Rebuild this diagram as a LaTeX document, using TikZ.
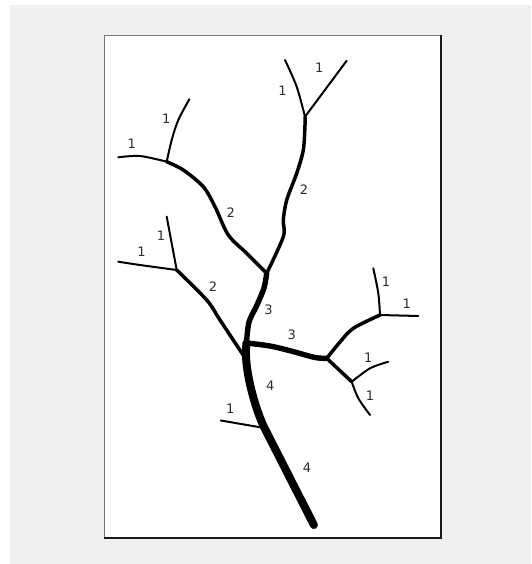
\documentclass[tikz,border=0pt]{standalone}
\usepackage{fontspec}
\setmainfont{DejaVu Sans}
\definecolor{pageGray}{RGB}{240, 240, 240}
\definecolor{frameGray}{RGB}{120, 120, 120}
\definecolor{labelGray}{RGB}{45, 45, 45}
\usetikzlibrary{positioning, calc}

\begin{document}
\begin{tikzpicture}[
    x=1pt, y=-1pt,
    stream1/.style={draw=black, line width=2pt, line cap=round, line join=round},
    stream2/.style={draw=black, line width=3.5pt, line cap=round, line join=round},
    stream3/.style={draw=black, line width=5.4pt, line cap=round, line join=round},
    stream4/.style={draw=black, line width=8pt, line cap=round, line join=round},
    order/.style={text=labelGray, inner sep=0pt, font=\fontsize{13}{15}\selectfont},
  ]
    % page and frame
    \useasboundingbox (0,0) rectangle (531,564);
    \fill[pageGray] (10,5) rectangle (531,564);
    \fill[white] (104,36) rectangle (441,537);
    \draw[frameGray, line width=1pt] (104,537) -- (104,36) -- (441,36);
    \draw[black!90, line width=2.7pt] (441,35) -- (441,538) -- (103.5,538);

    % junctions and tips
    \coordinate (outlet) at (313.9,525);
    \coordinate (jSide) at (264.5,428);
    \coordinate (tSide) at (220.8,420.5);
    \coordinate (jLow) at (243.8,356);
    \coordinate (jSplit) at (246.5,343);
    \coordinate (jUp) at (266.7,273.3);
    \coordinate (jNW) at (166.7,161.7);
    \coordinate (tNWa) at (118.3,157.3);
    \coordinate (tNWb) at (189.3,99.3);
    \coordinate (jN) at (305,116.7);
    \coordinate (tNa) at (285,60);
    \coordinate (tNb) at (346.7,60.7);
    \coordinate (jW) at (176.7,270);
    \coordinate (tWa) at (118.3,261.7);
    \coordinate (tWb) at (166.7,216.7);
    \coordinate (jE) at (326.7,358.3);
    \coordinate (jNE) at (380,315);
    \coordinate (tNEa) at (373.3,268.3);
    \coordinate (tNEb) at (418.3,316);
    \coordinate (jSE) at (351.7,381.7);
    \coordinate (tSEa) at (388.3,361.7);
    \coordinate (tSEb) at (370,415);

    % order 1 streams
    \draw[stream1] (jSide) -- (tSide);
    \draw[stream1] plot[smooth] coordinates {(jNW) (140,156) (tNWa)};
    \draw[stream1] plot[smooth] coordinates {(jNW) (171.7,140) (178.3,120) (tNWb)};
    \draw[stream1] plot[smooth] coordinates {(jN) (296.7,86.7) (tNa)};
    \draw[stream1] (jN) -- (tNb);
    \draw[stream1] plot[smooth] coordinates {(jW) (140,265) (tWa)};
    \draw[stream1] (jW) -- (tWb);
    \draw[stream1] plot[smooth] coordinates {(jNE) (378.3,293.3) (tNEa)};
    \draw[stream1] (jNE) -- (tNEb);
    \draw[stream1] plot[smooth] coordinates {(jSE) (370,368.3) (tSEa)};
    \draw[stream1] plot[smooth] coordinates {(jSE) (358.3,398.3) (tSEb)};

    % order 2 streams
    \draw[stream2] plot[smooth, tension=0.5] coordinates {(jNW) (183.3,170) (203.3,186.7)
        (215,206.7) (228.3,235) (246.7,253.3) (jUp)};
    \draw[stream2] plot[smooth, tension=0.5] coordinates {(jUp) (283.3,236.7) (283.3,220)
        (286.7,200) (296.7,173.3) (303.3,150) (305,125) (jN)};
    \draw[stream2] plot[smooth, tension=0.5] coordinates {(jLow) (220,320) (206.7,300) (jW)};
    \draw[stream2] plot[smooth, tension=0.5] coordinates {(jE) (340,342) (353.3,328.3) (jNE)};
    \draw[stream2] (jE) -- (jSE);

    % order 3 streams
    \draw[stream3] plot[smooth, tension=0.5] coordinates {(jSplit) (249,322) (257,305)
        (264,288) (jUp)};
    \draw[stream3] plot[smooth, tension=0.5] coordinates {(jSplit) (270,346) (291,351)
        (315,357.5) (jE)};

    % order 4 stream
    \draw[stream4] (outlet) -- (jSide) .. controls (256,411) and (243,368) .. (jSplit);

    % stream orders
    \node[order] (nNWa) at (131.7,143.3) {1};
    \node[order] (nNWb) at (166.3,118.5) {1};
    \node[order] (nNW) at (230.7,212.8) {2};
    \node[order] (nNa) at (282.5,90.7) {1};
    \node[order] (nNb) at (319.2,67.8) {1};
    \node[order] (nN) at (304,189.8) {2};
    \node[order] (nWa) at (141.6,251.8) {1};
    \node[order] (nWb) at (161,235.3) {1};
    \node[order] (nW) at (213,287) {2};
    \node[order] (nUp) at (268.4,309.4) {3};
    \node[order] (nE) at (291.7,335.2) {3};
    \node[order] (nNEa) at (386,281.5) {1};
    \node[order] (nNEb) at (406.7,304) {1};
    \node[order] (nSEa) at (368.2,357.5) {1};
    \node[order] (nSEb) at (370,395.3) {1};
    \node[order] (nTrunkA) at (270.2,385.6) {4};
    \node[order] (nTrunkB) at (307.1,467.6) {4};
    \node[order] (nSide) at (230.3,408.3) {1};
\end{tikzpicture}
\end{document}
